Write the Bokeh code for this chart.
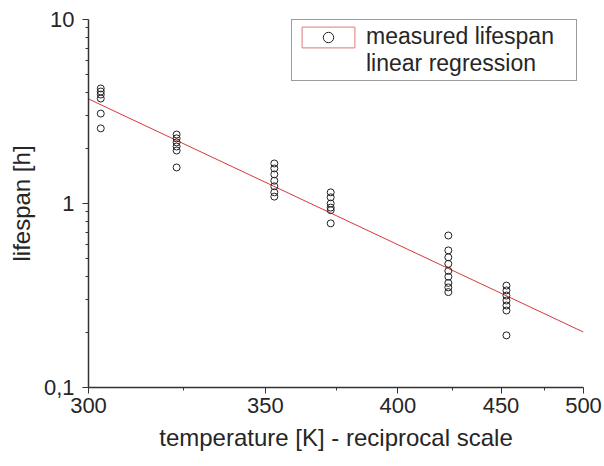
from bokeh.plotting import figure
from bokeh.models import (Range1d, FixedTicker, CustomJSTickFormatter, Legend, LegendItem,
                          ColumnDataSource)
from bokeh.embed import file_html
from bokeh.resources import INLINE

# ---- data ----
temp_groups = [303, 323, 353, 373, 423, 453]  # K
lifespan_groups = [
    [4.22, 4.06, 3.91, 3.72, 3.08, 2.56],
    [2.37, 2.26, 2.15, 2.04, 1.94, 1.57],
    [1.65, 1.55, 1.44, 1.33, 1.24, 1.15, 1.09],
    [1.15, 1.08, 1.00, 0.95, 0.92, 0.78],
    [0.67, 0.556, 0.51, 0.47, 0.43, 0.40, 0.37, 0.35, 0.33],
    [0.358, 0.337, 0.316, 0.297, 0.279, 0.262, 0.192],
]
reg_temp = [300, 500]
reg_lifespan = [3.7, 0.2]

x_major_T = [300, 350, 400, 450, 500]
x_minor_T = [325, 375, 425, 475]
y_major = [0.1, 1, 10]
y_minor = [0.2, 0.3, 0.4, 0.5, 0.6, 0.7, 0.8, 0.9, 2, 3, 4, 5, 6, 7, 8, 9]

# ---- build ----
xs, ys = [], []
for T, vals in zip(temp_groups, lifespan_groups):
    for v in vals:
        xs.append(1.0 / T)
        ys.append(v)

FONT = "Liberation Sans"
TXT = "#262626"

p = figure(width=604, height=466, x_range=Range1d(1 / 300, 1 / 500),
           y_range=Range1d(0.1, 10), y_axis_type="log",
           output_backend="svg", toolbar_location=None,
           min_border_left=88, min_border_top=19, min_border_right=21,
           min_border_bottom=79)
p.outline_line_color = None
p.xgrid.visible = False
p.ygrid.visible = False
p.background_fill_color = "white"
p.border_fill_color = "white"

line_r = p.line([1.0 / t for t in reg_temp], reg_lifespan, line_color="#d8383a", line_width=1)
sc_r = p.scatter(xs, ys, marker="circle", size=7, fill_color=None,
                 line_color="#222222", line_width=1)

# axes
xa = p.xaxis[0]
xa.ticker = FixedTicker(ticks=[1.0 / t for t in x_major_T],
                        minor_ticks=[1.0 / t for t in x_minor_T])
xa.formatter = CustomJSTickFormatter(code="return String(Math.round(1/tick));")
xa.axis_label = "temperature [K] - reciprocal scale"

ya = p.yaxis[0]
ya.ticker = FixedTicker(ticks=y_major, minor_ticks=y_minor)
ya.formatter = CustomJSTickFormatter(code="return String(tick).replace('.', ',');")
ya.axis_label = "lifespan [h]"

for ax in (xa, ya):
    ax.axis_line_color = "#333333"
    ax.axis_line_width = 1.5
    ax.major_tick_line_color = "#333333"
    ax.minor_tick_line_color = "#333333"
    ax.major_tick_in = 0
    ax.major_tick_out = 6
    ax.minor_tick_in = 0
    ax.minor_tick_out = 3
    ax.major_label_text_font = FONT
    ax.major_label_text_font_size = "22px"
    ax.major_label_text_color = TXT
    ax.axis_label_text_font = FONT
    ax.axis_label_text_font_size = "24px"
    ax.axis_label_text_font_style = "normal"
    ax.axis_label_text_color = TXT
xa.major_label_standoff = 4
xa.axis_label_standoff = 8
ya.major_label_standoff = 8
ya.axis_label_standoff = 6

# legend-only renderers (never drawn in the plot area)
nan = float("nan")
box_src = ColumnDataSource(data=dict(l=[nan], r=[nan], t=[nan], b=[nan]))
box_r = p.quad(left="l", right="r", top="t", bottom="b", source=box_src,
               fill_alpha=0, line_color="#e07878", line_width=1)
blank_src = ColumnDataSource(data=dict(x=[nan], y=[nan]))
blank_r = p.scatter(x="x", y="y", source=blank_src, size=1, line_alpha=0, fill_alpha=0)

legend = Legend(items=[LegendItem(label="measured lifespan", renderers=[box_r, sc_r]),
                       LegendItem(label="linear regression", renderers=[blank_r])],
                location=(203, 306))
legend.label_text_font = FONT
legend.label_text_font_size = "23px"
legend.label_text_color = TXT
legend.glyph_width = 66
legend.glyph_height = 26
legend.label_height = 26
legend.label_width = 207
legend.spacing = 0
legend.padding = 3
legend.margin = 0
legend.label_standoff = 5
legend.border_line_color = "#3a3a3a"
legend.border_line_width = 1
legend.background_fill_alpha = 1
p.add_layout(legend, "center")

open("out.html", "w").write(file_html(p, INLINE))
